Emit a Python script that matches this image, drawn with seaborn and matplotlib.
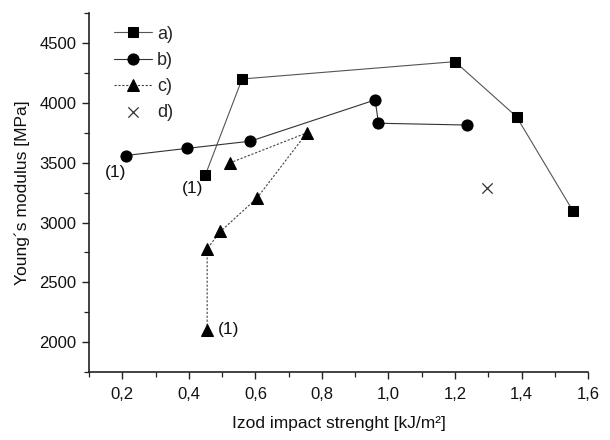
import matplotlib
matplotlib.use("Agg")
import matplotlib.pyplot as plt
import seaborn as sns
import pandas as pd
from matplotlib.ticker import MultipleLocator, FixedLocator, FixedFormatter

# Data
a_x = [0.45, 0.56, 1.20, 1.385, 1.555]
a_y = [3400, 4200, 4345, 3885, 3095]
b_x = [0.21, 0.395, 0.585, 0.96, 0.97, 1.235]
b_y = [3560, 3620, 3680, 4025, 3830, 3815]
c_x = [0.455, 0.455, 0.495, 0.605, 0.755, 0.525]
c_y = [2105, 2780, 2925, 3205, 3750, 3500]
d_x = [1.295]
d_y = [3292]
series_labels = ["a)", "b)", "c)", "d)"]
note_text = "(1)"
x_ticks = [0.2, 0.4, 0.6, 0.8, 1.0, 1.2, 1.4, 1.6]
x_tick_labels = ["0,2", "0,4", "0,6", "0,8", "1,0", "1,2", "1,4", "1,6"]
y_ticks = [2000, 2500, 3000, 3500, 4000, 4500]
y_tick_labels = ["2000", "2500", "3000", "3500", "4000", "4500"]

sns.set_theme(style="ticks")
plt.rcParams['font.family'] = ['Liberation Sans', 'DejaVu Sans']

fig = plt.figure(figsize=(6.1, 4.4), dpi=100)
ax = fig.add_axes([0.146, 0.1545, 0.818, 0.8155])

da = pd.DataFrame({"x": a_x, "y": a_y})
db = pd.DataFrame({"x": b_x, "y": b_y})
dc = pd.DataFrame({"x": c_x, "y": c_y})
dd = pd.DataFrame({"x": d_x, "y": d_y})

sns.lineplot(data=da, x="x", y="y", sort=False, estimator=None, ax=ax,
             color="#555555", lw=0.8, marker="s", markersize=7,
             markerfacecolor="black", markeredgecolor="black", label=series_labels[0])
sns.lineplot(data=db, x="x", y="y", sort=False, estimator=None, ax=ax,
             color="#333333", lw=0.8, marker="o", markersize=8,
             markerfacecolor="black", markeredgecolor="black", label=series_labels[1])
sns.lineplot(data=dc, x="x", y="y", sort=False, estimator=None, ax=ax,
             color="#444444", lw=0.8, linestyle=(0, (2, 1.5)), marker="^", markersize=8,
             markerfacecolor="black", markeredgecolor="black", label=series_labels[2])
sns.scatterplot(data=dd, x="x", y="y", ax=ax, marker="x", s=55, color="#333333",
                linewidth=0.9, label=series_labels[3])

# (1) annotations
fs_note = 12.5
ax.annotate(note_text, (b_x[0], b_y[0]), xytext=(-7, -12.5), textcoords="offset points",
            ha="center", va="center", fontsize=fs_note, color="#111111")
ax.annotate(note_text, (a_x[0], a_y[0]), xytext=(-9, -10), textcoords="offset points",
            ha="center", va="center", fontsize=fs_note, color="#111111")
ax.annotate(note_text, (c_x[0], c_y[0]), xytext=(8, 0), textcoords="offset points",
            ha="left", va="center", fontsize=fs_note, color="#111111")

ax.set_xlim(0.1, 1.6)
ax.set_ylim(1750, 4750)
ax.xaxis.set_major_locator(FixedLocator(x_ticks))
ax.xaxis.set_major_formatter(FixedFormatter(x_tick_labels))
ax.xaxis.set_minor_locator(MultipleLocator(0.1))
ax.yaxis.set_major_locator(FixedLocator(y_ticks))
ax.yaxis.set_major_formatter(FixedFormatter(y_tick_labels))
ax.yaxis.set_minor_locator(MultipleLocator(250))

for s in ["top", "right"]:
    ax.spines[s].set_visible(False)
for s in ["left", "bottom"]:
    ax.spines[s].set_linewidth(1.2)
    ax.spines[s].set_color("#222222")

ax.tick_params(which="major", direction="out", length=5, width=1.0, colors="#222222",
               labelsize=12, labelcolor="#111111")
ax.tick_params(which="minor", direction="out", length=3.5, width=0.9, colors="#222222")
ax.tick_params(axis="x", pad=6)
ax.tick_params(axis="y", pad=4)

ax.set_xlabel("Izod impact strenght [kJ/m²]", fontsize=12.5, color="#111111", labelpad=10)
ax.set_ylabel("Young´s modulus [MPa]", fontsize=12.5, color="#111111", labelpad=7)

leg = ax.legend(loc="upper left", frameon=False, prop={"size": 13}, handlelength=2.1,
                handletextpad=0.3, labelspacing=0.5, borderaxespad=0.0,
                bbox_to_anchor=(0.035, 0.985))

fig.savefig("out.png", dpi=100)
